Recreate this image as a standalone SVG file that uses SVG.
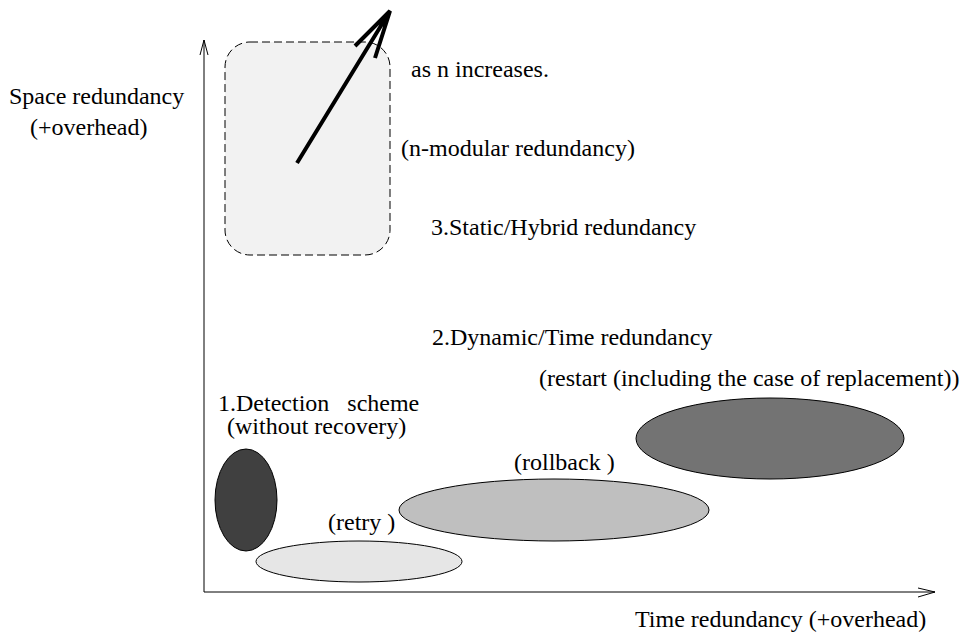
<svg xmlns="http://www.w3.org/2000/svg" width="971" height="636" viewBox="0 0 971 636" font-family="'Liberation Serif', 'DejaVu Serif', 'Times New Roman', serif">
  <style>
    text { font-family: "Liberation Serif", "DejaVu Serif", "Times New Roman", serif; font-size: 24px; fill: #000; white-space: pre; }
    .axis { fill: none; stroke: #000; stroke-width: 1; }
    .region { stroke: #000; stroke-width: 1; }
  </style>
  <rect width="971" height="636" fill="#fff"/>

  <!-- static / hybrid redundancy region (drawn first so the growth arrow sits on top) -->
  <g id="static">
    <rect x="225" y="42" width="165" height="213" rx="25" ry="25" fill="#f2f2f2" stroke="#000" stroke-width="1" stroke-dasharray="8 4"/>
    <text x="411" y="77">as n increases.</text>
    <text x="401" y="156">(n-modular redundancy)</text>
    <text x="431" y="235">3.Static/Hybrid redundancy</text>
  </g>

  <g id="dynamic">
    <text x="432" y="345">2.Dynamic/Time redundancy</text>
  </g>

  <g id="detection">
    <ellipse class="region" cx="246" cy="500" rx="31" ry="51" fill="#404040"/>
    <text x="218" y="411">1.Detection   scheme</text>
    <text x="227" y="434">(without recovery)</text>
  </g>

  <g id="retry">
    <ellipse class="region" cx="359" cy="561.5" rx="103" ry="20.5" fill="#e6e6e6"/>
    <text x="328" y="530">(retry )</text>
  </g>

  <g id="rollback">
    <ellipse class="region" cx="554" cy="510" rx="155" ry="31" fill="#bfbfbf"/>
    <text x="514" y="470">(rollback )</text>
  </g>

  <g id="restart">
    <ellipse class="region" cx="770" cy="438.5" rx="134" ry="40.5" fill="#737373"/>
    <text x="539" y="386">(restart (including the case of replacement))</text>
  </g>

  <!-- axis labels -->
  <g id="y-label">
    <text x="9" y="104">Space redundancy</text>
    <text x="30" y="135">(+overhead)</text>
  </g>
  <g id="x-label">
    <text x="635" y="627">Time redundancy (+overhead)</text>
  </g>

  <!-- axes and growth arrow -->
  <g id="connectors">
    <path class="axis" d="M204,592 V40 M200,55 L204,40 L208,55"/>
    <path class="axis" d="M204,592 H935 M918,588 L935,592 L918,597"/>
    <path d="M297,163 L390,11 M355,46 L390,11 L375,58" fill="none" stroke="#000" stroke-width="4" stroke-linejoin="miter"/>
  </g>
</svg>
